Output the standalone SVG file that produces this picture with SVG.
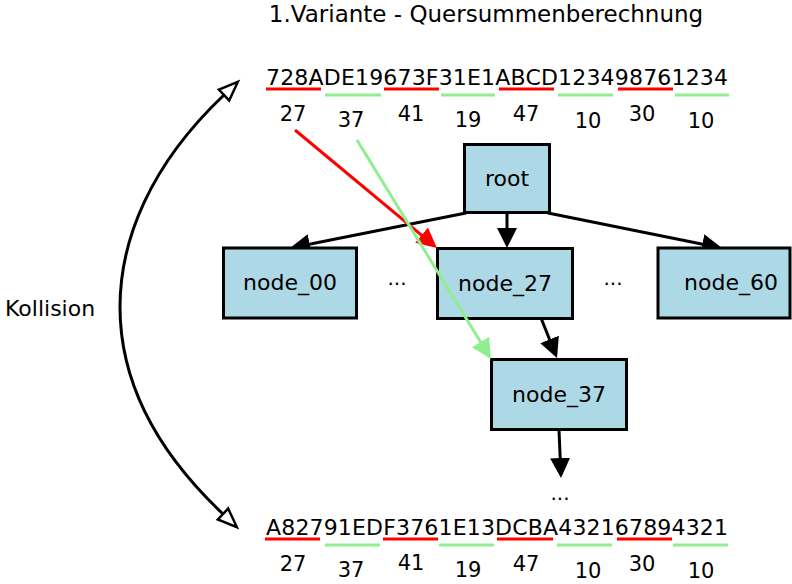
<svg xmlns="http://www.w3.org/2000/svg" width="792" height="584" viewBox="0 0 792 584">
  <style>
    text { font-family: "DejaVu Sans", "Liberation Sans", sans-serif; fill: #000; }
    .title { font-size: 23px; text-anchor: middle; }
    .hex { font-size: 22px; }
    .sum { font-size: 21px; text-anchor: middle; }
    .label { font-size: 22px; text-anchor: middle; }
    .dots { font-size: 20px; text-anchor: middle; }
    .box { fill: #add8e6; stroke: #000; stroke-width: 3; }
    .edge { fill: none; stroke: #000; stroke-width: 3; }
    .red { stroke: #ff0000; stroke-width: 3; fill: none; }
    .green { stroke: #90ee90; stroke-width: 3; fill: none; }
  </style>
  <defs>
    <marker id="arrow" viewBox="0 0 20 20" refX="3" refY="10" markerWidth="20" markerHeight="20" markerUnits="userSpaceOnUse" orient="auto">
      <path d="M0,0 L20,10 L0,20 z" fill="#000"/>
    </marker>
    <marker id="arrow-red" viewBox="0 0 20 20" refX="3" refY="10" markerWidth="20" markerHeight="20" markerUnits="userSpaceOnUse" orient="auto">
      <path d="M0,0 L20,10 L0,20 z" fill="#ff0000"/>
    </marker>
    <marker id="arrow-green" viewBox="0 0 20 20" refX="3" refY="10" markerWidth="20" markerHeight="20" markerUnits="userSpaceOnUse" orient="auto">
      <path d="M0,0 L20,10 L0,20 z" fill="#90ee90"/>
    </marker>
    <marker id="open" viewBox="-2 -2 24 20" refX="0" refY="8" markerWidth="24" markerHeight="20" markerUnits="userSpaceOnUse" orient="auto-start-reverse" overflow="visible">
      <path d="M0,0.5 L19,8 L0,15.5 z" fill="#fff" stroke="#000" stroke-width="2.5" stroke-linejoin="miter"/>
    </marker>
  </defs>

  <rect width="792" height="584" fill="#fff"/>

  <text class="title" x="486" y="22">1.Variante - Quersummenberechnung</text>

  <!-- upper hex string with digit-sum groups -->
  <g id="string-top">
    <text class="hex" x="266" y="85" textLength="462" lengthAdjust="spacing">728ADE19673F31E1ABCD123498761234</text>
    <line class="red" x1="266" y1="89" x2="321" y2="89"/>
    <line class="green" x1="325" y1="95" x2="381" y2="95"/>
    <line class="red" x1="384" y1="89" x2="439" y2="89"/>
    <line class="green" x1="441" y1="95" x2="495" y2="95"/>
    <line class="red" x1="499" y1="89" x2="554" y2="89"/>
    <line class="green" x1="558" y1="95" x2="613" y2="95"/>
    <line class="red" x1="618" y1="89" x2="673" y2="89"/>
    <line class="green" x1="675" y1="95" x2="729" y2="95"/>
    <text class="sum" x="293" y="121">27</text>
    <text class="sum" x="351" y="127">37</text>
    <text class="sum" x="411" y="121">41</text>
    <text class="sum" x="468" y="127">19</text>
    <text class="sum" x="526" y="121">47</text>
    <text class="sum" x="588" y="128">10</text>
    <text class="sum" x="642" y="121">30</text>
    <text class="sum" x="701" y="128">10</text>
  </g>

  <!-- lower hex string with digit-sum groups -->
  <g id="string-bottom">
    <text class="hex" x="266" y="535" textLength="462" lengthAdjust="spacing">A82791EDF3761E13DCBA432167894321</text>
    <line class="red" x1="265" y1="539" x2="320" y2="539"/>
    <line class="green" x1="325" y1="545" x2="380" y2="545"/>
    <line class="red" x1="383" y1="539" x2="438" y2="539"/>
    <line class="green" x1="439" y1="545" x2="494" y2="545"/>
    <line class="red" x1="497" y1="539" x2="553" y2="539"/>
    <line class="green" x1="557" y1="545" x2="612" y2="545"/>
    <line class="red" x1="617" y1="539" x2="672" y2="539"/>
    <line class="green" x1="673" y1="545" x2="728" y2="545"/>
    <text class="sum" x="293" y="571">27</text>
    <text class="sum" x="351" y="577">37</text>
    <text class="sum" x="411" y="570">41</text>
    <text class="sum" x="468" y="577">19</text>
    <text class="sum" x="526" y="571">47</text>
    <text class="sum" x="588" y="578">10</text>
    <text class="sum" x="642" y="571">30</text>
    <text class="sum" x="701" y="578">10</text>
  </g>

  <!-- collision arc -->
  <g id="collision">
    <path class="edge" d="M224,95 C150,165 120,240 120,307 C120,375 150,445 223,514" marker-start="url(#open)" marker-end="url(#open)"/>
    <text x="5" y="316" style="font-size:22px">Kollision</text>
  </g>

  <!-- tree edges -->
  <g id="edges">
    <line class="edge" x1="466" y1="213" x2="306.7" y2="244.7" marker-end="url(#arrow)"/>
    <line class="edge" x1="507" y1="213" x2="507" y2="231" marker-end="url(#arrow)"/>
    <line class="edge" x1="548" y1="213" x2="705.3" y2="244.7" marker-end="url(#arrow)"/>
    <line class="edge" x1="541" y1="318" x2="550.7" y2="342.2" marker-end="url(#arrow)"/>
    <line class="edge" x1="559" y1="430" x2="560.3" y2="461" marker-end="url(#arrow)"/>
  </g>

  <!-- nodes -->
  <g id="root">
    <rect class="box" x="464.5" y="144.5" width="85" height="68"/>
    <text class="label" x="507" y="186">root</text>
  </g>
  <g id="node_00">
    <rect class="box" x="223.5" y="248" width="133" height="70"/>
    <text class="label" x="290" y="290">node_00</text>
  </g>
  <g id="node_27">
    <rect class="box" x="437.5" y="248.5" width="135" height="70"/>
    <text class="label" x="505" y="291">node_27</text>
  </g>
  <g id="node_60">
    <rect class="box" x="658" y="248" width="132" height="70"/>
    <text class="label" x="731" y="290">node_60</text>
  </g>
  <g id="node_37">
    <rect class="box" x="491.5" y="359.5" width="135" height="70"/>
    <text class="label" x="559" y="402">node_37</text>
  </g>

  <text class="dots" x="397" y="285">...</text>
  <text class="dots" x="613" y="285">...</text>
  <text class="dots" x="560" y="500">...</text>

  <!-- hash pointers from digit sums into the tree -->
  <g id="pointers">
    <line class="red" x1="295" y1="130" x2="423.9" y2="237.1" marker-end="url(#arrow-red)"/>
    <line class="green" x1="357" y1="140" x2="482.1" y2="344.5" marker-end="url(#arrow-green)"/>
  </g>
</svg>
